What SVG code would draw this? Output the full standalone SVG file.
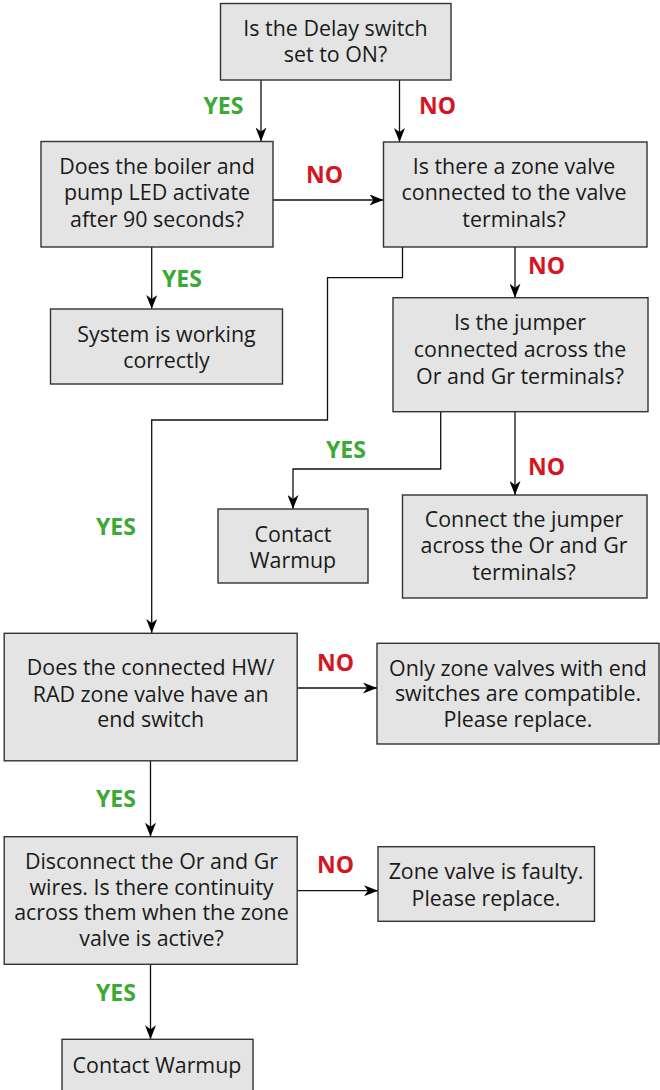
<svg xmlns="http://www.w3.org/2000/svg" width="660" height="1090" viewBox="0 0 660 1090">
<defs>
<marker id="arr" viewBox="0 0 14 11" markerWidth="14" markerHeight="11" refX="14" refY="5.5" orient="auto" markerUnits="userSpaceOnUse">
<path d="M0,0 L14,5.5 L0,11 L4,5.5 z" fill="#000"/>
</marker>
<style>
.box{fill:#e4e4e4;stroke:#333;stroke-width:1.4}
.t{font-family:"Open Sans","Liberation Sans",sans-serif;font-size:21.4px;fill:#1a1a1a;text-anchor:middle}
.yes{font-family:"Open Sans","Liberation Sans",sans-serif;font-size:23px;font-weight:bold;fill:#3aaa35}
.no{font-family:"Open Sans","Liberation Sans",sans-serif;font-size:23px;font-weight:bold;fill:#d4161f}
.c{fill:none;stroke:#111;stroke-width:1.3;marker-end:url(#arr)}
</style>
</defs>
<rect width="660" height="1090" fill="#fff"/>
<g id="connectors">
<path class="c" d="M261,80 V141.5"/>
<path class="c" d="M399.5,80 V142"/>
<path class="c" d="M273,200 H383.5"/>
<path class="c" d="M151.7,247 V309"/>
<path class="c" d="M402.5,247 V277.7 H327.5 V420 H151.7 V633"/>
<path class="c" d="M515,247 V297.7"/>
<path class="c" d="M440.7,411.7 V469 H293 V509"/>
<path class="c" d="M515,411.7 V495"/>
<path class="c" d="M297.5,688 H377"/>
<path class="c" d="M150.5,761 V836.7"/>
<path class="c" d="M297.5,890.7 H378"/>
<path class="c" d="M150.5,964.3 V1039.3"/>
</g>
<g id="labels">
<text class="yes" x="203.5" y="114">YES</text>
<text class="no" x="419" y="114">NO</text>
<text class="no" x="306" y="183">NO</text>
<text class="yes" x="162" y="287">YES</text>
<text class="no" x="528" y="274">NO</text>
<text class="yes" x="326" y="458">YES</text>
<text class="no" x="528" y="475">NO</text>
<text class="yes" x="96" y="535">YES</text>
<text class="no" x="317" y="670.7">NO</text>
<text class="yes" x="96" y="806.7">YES</text>
<text class="no" x="317" y="873">NO</text>
<text class="yes" x="96" y="1001">YES</text>
</g>
<g id="n1"><rect class="box" x="220.5" y="3.5" width="230.5" height="76.5"/>
<text class="t" x="335.5" y="35.5">Is the Delay switch</text><text class="t" x="335.5" y="61.7">set to ON?</text></g>
<g id="n2"><rect class="box" x="41" y="141.5" width="232" height="105.5"/>
<text class="t" x="157" y="174">Does the boiler and</text><text class="t" x="157" y="200">pump LED activate</text><text class="t" x="157" y="227">after 90 seconds?</text></g>
<g id="n3"><rect class="box" x="383.5" y="142" width="263.5" height="105"/>
<text class="t" x="514" y="174">Is there a zone valve</text><text class="t" x="514" y="200">connected to the valve</text><text class="t" x="514" y="227">terminals?</text></g>
<g id="n4"><rect class="box" x="50.5" y="309" width="232" height="75"/>
<text class="t" x="166.5" y="341.7">System is working</text><text class="t" x="166.5" y="367.7">correctly</text></g>
<g id="n5"><rect class="box" x="393" y="297.7" width="255" height="114"/>
<text class="t" x="520" y="330">Is the jumper</text><text class="t" x="520" y="357">connected across the</text><text class="t" x="520" y="384">Or and Gr terminals?</text></g>
<g id="n6"><rect class="box" x="218" y="509" width="150" height="74"/>
<text class="t" x="293" y="541.7">Contact</text><text class="t" x="293" y="567.7">Warmup</text></g>
<g id="n7"><rect class="box" x="402.5" y="495" width="244.5" height="103"/>
<text class="t" x="524" y="526.7">Connect the jumper</text><text class="t" x="524" y="553">across the Or and Gr</text><text class="t" x="524" y="580">terminals?</text></g>
<g id="n8"><rect class="box" x="4.2" y="633.3" width="293" height="127.5"/>
<text class="t" x="150.7" y="675.3">Does the connected HW/</text><text class="t" x="150.7" y="701.5">RAD zone valve have an</text><text class="t" x="150.7" y="727.3">end switch</text></g>
<g id="n9"><rect class="box" x="377" y="643.3" width="282" height="100.7"/>
<text class="t" x="518" y="675.7">Only zone valves with end</text><text class="t" x="518" y="701">switches are compatible.</text><text class="t" x="518" y="726.7">Please replace.</text></g>
<g id="n10"><rect class="box" x="4.2" y="836.7" width="293" height="127.6"/>
<text class="t" x="151.5" y="869.3">Disconnect the Or and Gr</text><text class="t" x="151.5" y="895.3">wires. Is there continuity</text><text class="t" x="151.5" y="920.3">across them when the zone</text><text class="t" x="151.5" y="945.7">valve is active?</text></g>
<g id="n11"><rect class="box" x="378" y="846.7" width="216.5" height="74.6"/>
<text class="t" x="486" y="879.3">Zone valve is faulty.</text><text class="t" x="486" y="905.7">Please replace.</text></g>
<g id="n12"><rect class="box" x="62" y="1039.3" width="191" height="60"/>
<text class="t" x="157" y="1072.7">Contact Warmup</text></g>
</svg>
